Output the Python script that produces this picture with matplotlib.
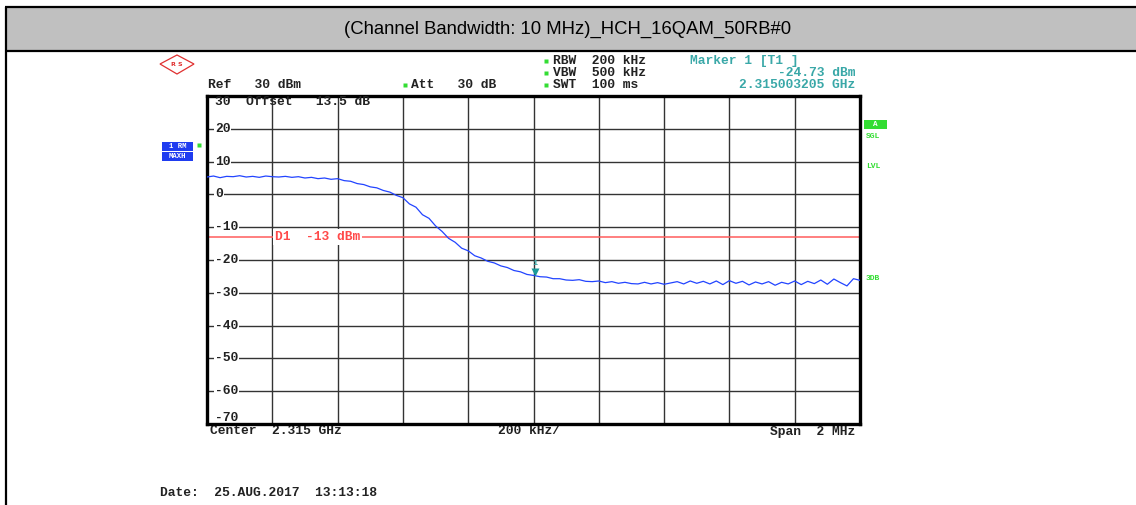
import matplotlib
matplotlib.use('Agg')
import matplotlib.pyplot as plt
import matplotlib.transforms as mtransforms
from matplotlib.patches import Rectangle, Polygon
import numpy as np

# ------------------------------------------------------------------
# data
# ------------------------------------------------------------------
TITLE = '(Channel Bandwidth: 10 MHz)_HCH_16QAM_50RB#0'

center_mhz = 2315.0
span_mhz = 2.0
ref_level = 30
bottom_level = -70
limit_dbm = -13
marker_mhz = 2315.003205
marker_dbm = -24.73

y_tick_labels = ['20', '10', '0', '-10', '-20', '-30', '-40', '-50', '-60']
y_tick_values = [20, 10, 0, -10, -20, -30, -40, -50, -60]

# 101 sweep points (20 kHz step), dBm
trace_dbm = [
    5.3, 5.6, 5.1, 5.5, 5.4, 5.7, 5.3, 5.5, 5.2, 5.6,
    5.4, 5.3, 5.5, 5.2, 5.4, 5.0, 5.2, 4.8, 5.0, 4.6,
    4.8, 4.2, 4.0, 3.3, 3.0, 2.3, 2.0, 1.2, 0.7, -0.3,
    -1.0, -2.9, -3.9, -6.2, -7.3, -9.6, -11.3, -13.4, -14.6, -16.4,
    -17.2, -18.7, -19.4, -20.4, -20.9, -21.8, -22.3, -23.2, -23.6, -24.4,
    -24.7, -25.1, -25.2, -25.7, -25.7, -26.1, -26.2, -26.0, -26.5, -26.6,
    -26.4, -26.9, -26.6, -27.1, -26.8, -27.2, -27.3, -26.8, -27.3, -26.9,
    -27.4, -27.0, -26.6, -27.3, -26.4, -27.1, -26.5, -27.3, -26.4, -27.5,
    -26.3, -27.1, -26.5, -27.6, -26.7, -27.3, -26.6, -27.7, -26.8, -27.3,
    -26.4, -27.5, -26.5, -27.2, -26.1, -27.4, -25.8, -26.9, -27.9, -25.7,
    -26.2,
]

freq_mhz = np.linspace(center_mhz - span_mhz / 2, center_mhz + span_mhz / 2,
                       len(trace_dbm))

# ------------------------------------------------------------------
# figure
# ------------------------------------------------------------------
W, H, DPI = 1136, 505, 100
fig = plt.figure(figsize=(W / DPI, H / DPI), dpi=DPI)

# page layer in pixel coordinates
bg = fig.add_axes([0, 0, 1, 1], zorder=0)
bg.set_xlim(0, W)
bg.set_ylim(H, 0)
bg.axis('off')

MONO = dict(family='Liberation Mono', fontweight='bold', fontsize=9.4,
            color='#222222')
CYAN = '#3aa8a8'
GREEN = '#33dd33'

# table header
bg.add_patch(Rectangle((6, 8), W, 42, facecolor='#c0c0c0', edgecolor='none'))
bg.plot([5, W], [7.3, 7.3], color='black', lw=1.6, solid_capstyle='butt')
bg.plot([5, W], [50.8, 50.8], color='black', lw=1.6, solid_capstyle='butt')
bg.plot([5.8, 5.8], [6.5, H], color='black', lw=1.6, solid_capstyle='butt')
bg.text(568, 29.5, TITLE, ha='center', va='center', fontsize=13.3,
        family='Liberation Sans', color='black')

# R&S logo
bg.add_patch(Polygon([(160, 64), (177, 55), (194, 64), (177, 74)], closed=True,
                     facecolor='none', edgecolor='#e03030', lw=0.9))
bg.text(177, 64.5, 'R S', ha='center', va='center', fontsize=4.5,
        color='#e03030', fontweight='bold')

# header texts
bg.text(208, 85, 'Ref   30 dBm', ha='left', va='center', **MONO)
bg.text(411, 85, 'Att   30 dB', ha='left', va='center', **MONO)
for y, s in [(61, 'RBW  200 kHz'), (73, 'VBW  500 kHz'), (85, 'SWT  100 ms')]:
    bg.text(553, y, s, ha='left', va='center', **MONO)
    bg.plot(546, y, marker='s', ms=2.2, color=GREEN, mec='none')
bg.plot(405, 85, marker='s', ms=2.2, color=GREEN, mec='none')

bg.text(690, 61, 'Marker 1 [T1 ]', ha='left', va='center',
        **{**MONO, 'color': CYAN})
bg.text(855, 73, f'{marker_dbm:.2f} dBm', ha='right', va='center',
        **{**MONO, 'color': CYAN})
bg.text(855, 85, f'{marker_mhz / 1000:.9f} GHz', ha='right', va='center',
        **{**MONO, 'color': CYAN})

# left trace-info boxes
for y, s in [(146, '1 RM'), (156.5, 'MAXH')]:
    bg.add_patch(Rectangle((162, y - 4.5), 31, 9, facecolor='#1f3cf0',
                           edgecolor='none'))
    bg.text(177.5, y, s, ha='center', va='center', family='Liberation Mono',
            fontweight='bold', fontsize=5.2, color='white')
bg.plot(199, 145, marker='s', ms=2.2, color=GREEN, mec='none')

# right side labels
bg.add_patch(Rectangle((864, 120), 23, 8.5, facecolor=GREEN, edgecolor='none'))
bg.text(875.5, 124.3, 'A', ha='center', va='center', family='Liberation Mono',
        fontweight='bold', fontsize=5.5, color='white')
for y, s in [(136, 'SGL'), (166.5, 'LVL'), (279, '3DB')]:
    bg.text(866, y, s, ha='left', va='center', family='Liberation Mono',
            fontweight='bold', fontsize=5.8, color=GREEN)

# footer texts
bg.text(210, 431.5, 'Center  2.315 GHz', ha='left', va='center', **MONO)
bg.text(498, 431.5, '200 kHz/', ha='left', va='center', **MONO)
bg.text(855, 431.5, 'Span  2 MHz', ha='right', va='center', **MONO)
bg.text(160, 493, 'Date:  25.AUG.2017  13:13:18', ha='left', va='center', **MONO)

# ------------------------------------------------------------------
# analyzer screen
# ------------------------------------------------------------------
ax = fig.add_axes([207 / W, 1 - 424 / H, 653 / W, 328 / H], zorder=2)
ax.set_facecolor('white')
ax.set_xlim(center_mhz - span_mhz / 2, center_mhz + span_mhz / 2)
ax.set_ylim(bottom_level, ref_level)
ax.set_xticks(np.linspace(center_mhz - span_mhz / 2,
                          center_mhz + span_mhz / 2, 11))
ax.set_yticks(np.arange(bottom_level, ref_level + 1, 10))
ax.tick_params(length=0, labelbottom=False, labelleft=False)
ax.grid(True, color='#333333', lw=1.0)
ax.set_axisbelow(True)
for sp in ax.spines.values():
    sp.set_linewidth(2.4)
    sp.set_color('black')

ax.plot(freq_mhz, trace_dbm, color='#2244ff', lw=0.9, zorder=3)

lbl_tr = mtransforms.blended_transform_factory(ax.transAxes, ax.transData)

ax.axhline(limit_dbm, color='#ff5c5c', lw=1.1, zorder=2)
ax.text(68 / 653, limit_dbm, 'D1  -13 dBm', color='#ff4a4a',
        transform=lbl_tr, ha='left', va='center', zorder=4,
        family='Liberation Mono', fontweight='bold', fontsize=9.4,
        bbox=dict(facecolor='white', edgecolor='none', pad=1.5))

for v, s in zip(y_tick_values, y_tick_labels):
    ax.text(8 / 653, v, s, transform=lbl_tr, ha='left', va='center', zorder=4,
            bbox=dict(facecolor='white', edgecolor='none', pad=0.6), **MONO)
ax.text(8 / 653, ref_level, '30  Offset   13.5 dB', transform=lbl_tr,
        ha='left', va='top', zorder=4, **MONO)
ax.text(8 / 653, bottom_level, '-70', transform=lbl_tr, ha='left',
        va='bottom', zorder=4, **MONO)

# marker 1
mk_tr = mtransforms.offset_copy(ax.transData, fig=fig, x=0, y=4, units='dots')
ax.plot(marker_mhz, marker_dbm, marker='v', ms=6, color='#1a9a9a',
        mec='none', transform=mk_tr, zorder=5)
txt_tr = mtransforms.offset_copy(ax.transData, fig=fig, x=0, y=12, units='dots')
ax.text(marker_mhz, marker_dbm, '1', transform=txt_tr, ha='center',
        va='center', color=CYAN, family='Liberation Mono', fontweight='bold',
        fontsize=6, zorder=5)

fig.savefig('out.png', dpi=DPI)
